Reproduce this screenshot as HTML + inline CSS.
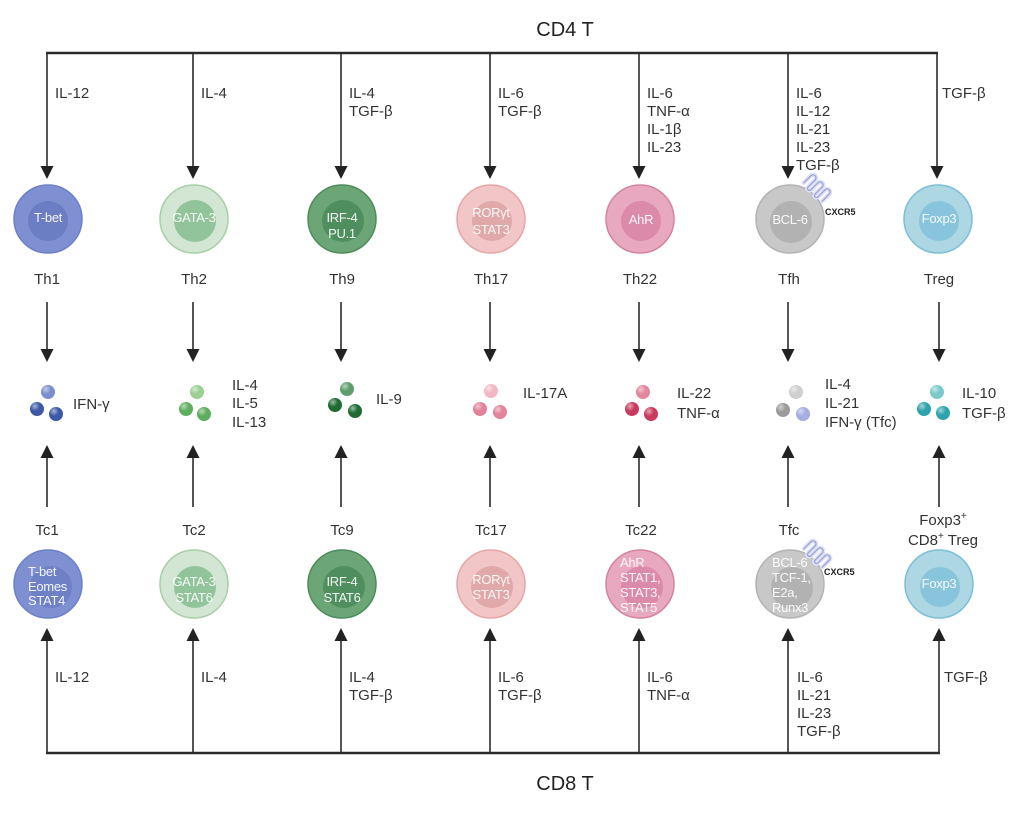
<!DOCTYPE html>
<html><head><meta charset="utf-8"><style>
html,body{margin:0;padding:0;background:#fff;}
svg{display:block;}
.lb{font-family:"Liberation Sans",sans-serif;font-size:15px;fill:#333;}
.tt{font-family:"Liberation Sans",sans-serif;font-size:20px;fill:#222;}
.ct{font-family:"Liberation Sans",sans-serif;font-size:13px;fill:#fff;fill-opacity:0.92;letter-spacing:-0.3px;}
.cx{font-family:"Liberation Sans",sans-serif;font-size:9px;font-weight:bold;fill:#222;}
</style></head><body>
<svg width="1024" height="815" viewBox="0 0 1024 815" xmlns="http://www.w3.org/2000/svg">
<defs>
<radialGradient id="hl" cx="0.35" cy="0.3" r="0.7">
<stop offset="0" stop-color="#fff" stop-opacity="0.55"/>
<stop offset="0.5" stop-color="#fff" stop-opacity="0"/>
</radialGradient>
<g id="rec">
<path d="M-13,0 v-10 a3,3 0 0 1 6,0 v10 a2,2 0 0 0 4,0 v-10 a3,3 0 0 1 6,0 v10 a2,2 0 0 0 4,0 v-10 a3,3 0 0 1 6,0 v10" fill="none" stroke="#dfe2f4" stroke-width="4.5" stroke-linecap="round"/>
<path d="M-13,0 v-10 a3,3 0 0 1 6,0 v10 a2,2 0 0 0 4,0 v-10 a3,3 0 0 1 6,0 v10 a2,2 0 0 0 4,0 v-10 a3,3 0 0 1 6,0 v10" fill="none" stroke="#9ba4d6" stroke-width="1.3" stroke-linecap="round"/>
</g>
</defs>

<!-- Titles -->
<text class="tt" x="565" y="36" text-anchor="middle">CD4 T</text>
<text class="tt" x="565" y="790" text-anchor="middle">CD8 T</text>

<!-- Top bus -->
<g stroke="#2b2b2b" fill="none">
<line x1="46" y1="53" x2="938" y2="53" stroke-width="2.4"/>
<line x1="47" y1="53" x2="47" y2="168" stroke-width="1.6"/>
<line x1="193" y1="53" x2="193" y2="168" stroke-width="1.6"/>
<line x1="341" y1="53" x2="341" y2="168" stroke-width="1.6"/>
<line x1="490" y1="53" x2="490" y2="168" stroke-width="1.6"/>
<line x1="639" y1="53" x2="639" y2="168" stroke-width="1.6"/>
<line x1="788" y1="53" x2="788" y2="168" stroke-width="1.6"/>
<line x1="937" y1="53" x2="937" y2="168" stroke-width="1.6"/>
</g>
<g fill="#222">
<polygon points="40.5,166 53.5,166 47,179"/>
<polygon points="186.5,166 199.5,166 193,179"/>
<polygon points="334.5,166 347.5,166 341,179"/>
<polygon points="483.5,166 496.5,166 490,179"/>
<polygon points="632.5,166 645.5,166 639,179"/>
<polygon points="781.5,166 794.5,166 788,179"/>
<polygon points="930.5,166 943.5,166 937,179"/>
</g>

<!-- Bottom bus -->
<g stroke="#2b2b2b" fill="none">
<line x1="46" y1="753" x2="940" y2="753" stroke-width="2.4"/>
<line x1="47" y1="640" x2="47" y2="753" stroke-width="1.6"/>
<line x1="193" y1="640" x2="193" y2="753" stroke-width="1.6"/>
<line x1="341" y1="640" x2="341" y2="753" stroke-width="1.6"/>
<line x1="490" y1="640" x2="490" y2="753" stroke-width="1.6"/>
<line x1="639" y1="640" x2="639" y2="753" stroke-width="1.6"/>
<line x1="788" y1="640" x2="788" y2="753" stroke-width="1.6"/>
<line x1="939" y1="640" x2="939" y2="753" stroke-width="1.6"/>
</g>
<g fill="#222">
<polygon points="40.5,641 53.5,641 47,628"/>
<polygon points="186.5,641 199.5,641 193,628"/>
<polygon points="334.5,641 347.5,641 341,628"/>
<polygon points="483.5,641 496.5,641 490,628"/>
<polygon points="632.5,641 645.5,641 639,628"/>
<polygon points="781.5,641 794.5,641 788,628"/>
<polygon points="932.5,641 945.5,641 939,628"/>
</g>

<!-- Middle arrows (down) -->
<g stroke="#2b2b2b" stroke-width="1.6">
<line x1="47" y1="302" x2="47" y2="350"/>
<line x1="193" y1="302" x2="193" y2="350"/>
<line x1="341" y1="302" x2="341" y2="350"/>
<line x1="490" y1="302" x2="490" y2="350"/>
<line x1="639" y1="302" x2="639" y2="350"/>
<line x1="788" y1="302" x2="788" y2="350"/>
<line x1="939" y1="302" x2="939" y2="350"/>
</g>
<g fill="#222">
<polygon points="40.5,349 53.5,349 47,362"/>
<polygon points="186.5,349 199.5,349 193,362"/>
<polygon points="334.5,349 347.5,349 341,362"/>
<polygon points="483.5,349 496.5,349 490,362"/>
<polygon points="632.5,349 645.5,349 639,362"/>
<polygon points="781.5,349 794.5,349 788,362"/>
<polygon points="932.5,349 945.5,349 939,362"/>
</g>
<!-- Middle arrows (up) -->
<g stroke="#2b2b2b" stroke-width="1.6">
<line x1="47" y1="457" x2="47" y2="507"/>
<line x1="193" y1="457" x2="193" y2="507"/>
<line x1="341" y1="457" x2="341" y2="507"/>
<line x1="490" y1="457" x2="490" y2="507"/>
<line x1="639" y1="457" x2="639" y2="507"/>
<line x1="788" y1="457" x2="788" y2="507"/>
<line x1="939" y1="457" x2="939" y2="507"/>
</g>
<g fill="#222">
<polygon points="40.5,458 53.5,458 47,445"/>
<polygon points="186.5,458 199.5,458 193,445"/>
<polygon points="334.5,458 347.5,458 341,445"/>
<polygon points="483.5,458 496.5,458 490,445"/>
<polygon points="632.5,458 645.5,458 639,445"/>
<polygon points="781.5,458 794.5,458 788,445"/>
<polygon points="932.5,458 945.5,458 939,445"/>
</g>

<!-- Top cytokine labels -->
<g class="lb">
<text x="55" y="98">IL-12</text>
<text x="201" y="98">IL-4</text>
<text x="349" y="98">IL-4</text><text x="349" y="116">TGF-β</text>
<text x="498" y="98">IL-6</text><text x="498" y="116">TGF-β</text>
<text x="647" y="98">IL-6</text><text x="647" y="116">TNF-α</text><text x="647" y="134">IL-1β</text><text x="647" y="152">IL-23</text>
<text x="796" y="98">IL-6</text><text x="796" y="116">IL-12</text><text x="796" y="134">IL-21</text><text x="796" y="152">IL-23</text><text x="796" y="170">TGF-β</text>
<text x="942" y="98">TGF-β</text>
</g>

<!-- Bottom cytokine labels -->
<g class="lb">
<text x="55" y="682">IL-12</text>
<text x="201" y="682">IL-4</text>
<text x="349" y="682">IL-4</text><text x="349" y="700">TGF-β</text>
<text x="498" y="682">IL-6</text><text x="498" y="700">TGF-β</text>
<text x="647" y="682">IL-6</text><text x="647" y="700">TNF-α</text>
<text x="797" y="682">IL-6</text><text x="797" y="700">IL-21</text><text x="797" y="718">IL-23</text><text x="797" y="736">TGF-β</text>
<text x="944" y="682">TGF-β</text>
</g>

<!-- Top cells -->
<g stroke-width="1.5">
<circle cx="48" cy="219" r="34" fill="#7e90d1" stroke="#6d80c8"/>
<circle cx="48" cy="221" r="20" fill="#6b7dc3"/>
<circle cx="194" cy="219" r="34" fill="#d3e6d3" stroke="#a8cfa8"/>
<circle cx="195" cy="221" r="21" fill="#92c49b"/>
<circle cx="342" cy="219" r="34" fill="#6ca677" stroke="#4e8d5b"/>
<circle cx="343" cy="221" r="21" fill="#4f8f5f"/>
<circle cx="491" cy="219" r="34" fill="#f2c6c6" stroke="#e6a6a6"/>
<circle cx="492" cy="221" r="20" fill="#e0a8a8"/>
<circle cx="640" cy="219" r="34" fill="#e8a9c0" stroke="#d3849f"/>
<circle cx="641" cy="221" r="20" fill="#dc8aaa"/>
<circle cx="790" cy="219" r="34" fill="#c8c8c8" stroke="#b3b3b3"/>
<circle cx="791" cy="222" r="21" fill="#b2b2b2"/>
<circle cx="938" cy="219" r="34" fill="#acd7e3" stroke="#7bbfd8"/>
<circle cx="939" cy="221" r="20" fill="#88c5dc"/>
</g>
<use href="#rec" transform="translate(813,192) rotate(45)"/>
<text class="cx" x="825" y="215">CXCR5</text>
<g class="ct" text-anchor="middle">
<text x="48" y="222">T-bet</text>
<text x="194" y="222">GATA-3</text>
<text x="342" y="222">IRF-4</text><text x="342" y="238">PU.1</text>
<text x="491" y="217">RORγt</text><text x="491" y="234">STAT3</text>
<text x="641" y="224">AhR</text>
<text x="790" y="224">BCL-6</text>
<text x="939" y="223">Foxp3</text>
</g>

<!-- Th labels -->
<g class="lb" text-anchor="middle">
<text x="47" y="284">Th1</text>
<text x="194" y="284">Th2</text>
<text x="342" y="284">Th9</text>
<text x="491" y="284">Th17</text>
<text x="640" y="284">Th22</text>
<text x="789" y="284">Tfh</text>
<text x="939" y="284">Treg</text>
</g>

<!-- Cytokine clusters -->
<g>
<circle cx="48" cy="392" r="7" fill="#7a8fcc"/><circle cx="37" cy="409" r="7" fill="#3c58a6"/><circle cx="56" cy="414" r="7" fill="#3c58a6"/>
<circle cx="197" cy="392" r="7" fill="#9ccf93"/><circle cx="186" cy="409" r="7" fill="#5fae5f"/><circle cx="204" cy="414" r="7" fill="#5fae5f"/>
<circle cx="347" cy="389" r="7" fill="#5f9e6c"/><circle cx="335" cy="405" r="7" fill="#1f6b33"/><circle cx="355" cy="411" r="7" fill="#1f6b33"/>
<circle cx="491" cy="391" r="7" fill="#f1b8c2"/><circle cx="480" cy="409" r="7" fill="#e2839a"/><circle cx="500" cy="412" r="7" fill="#e2839a"/>
<circle cx="643" cy="392" r="7" fill="#e1869b"/><circle cx="632" cy="409" r="7" fill="#c93b5e"/><circle cx="651" cy="414" r="7" fill="#c93b5e"/>
<circle cx="796" cy="392" r="7" fill="#cfcfcf"/><circle cx="783" cy="410" r="7" fill="#9a9a9a"/><circle cx="803" cy="414" r="7" fill="#a5ade2"/>
<circle cx="937" cy="392" r="7" fill="#7cc9cc"/><circle cx="924" cy="409" r="7" fill="#2fa3ad"/><circle cx="943" cy="413" r="7" fill="#2fa3ad"/>
</g>
<g fill="url(#hl)">
<circle cx="48" cy="392" r="7"/><circle cx="37" cy="409" r="7"/><circle cx="56" cy="414" r="7"/>
<circle cx="197" cy="392" r="7"/><circle cx="186" cy="409" r="7"/><circle cx="204" cy="414" r="7"/>
<circle cx="347" cy="389" r="7"/><circle cx="335" cy="405" r="7"/><circle cx="355" cy="411" r="7"/>
<circle cx="491" cy="391" r="7"/><circle cx="480" cy="409" r="7"/><circle cx="500" cy="412" r="7"/>
<circle cx="643" cy="392" r="7"/><circle cx="632" cy="409" r="7"/><circle cx="651" cy="414" r="7"/>
<circle cx="796" cy="392" r="7"/><circle cx="783" cy="410" r="7"/><circle cx="803" cy="414" r="7"/>
<circle cx="937" cy="392" r="7"/><circle cx="924" cy="409" r="7"/><circle cx="943" cy="413" r="7"/>
</g>
<g class="lb">
<text x="73" y="409">IFN-γ</text>
<text x="232" y="390">IL-4</text><text x="232" y="408">IL-5</text><text x="232" y="427">IL-13</text>
<text x="376" y="404">IL-9</text>
<text x="523" y="398">IL-17A</text>
<text x="677" y="398">IL-22</text><text x="677" y="418">TNF-α</text>
<text x="825" y="389">IL-4</text><text x="825" y="408">IL-21</text><text x="825" y="427">IFN-γ (Tfc)</text>
<text x="962" y="398">IL-10</text><text x="962" y="418">TGF-β</text>
</g>

<!-- Tc labels -->
<g class="lb" text-anchor="middle">
<text x="47" y="535">Tc1</text>
<text x="194" y="535">Tc2</text>
<text x="342" y="535">Tc9</text>
<text x="491" y="535">Tc17</text>
<text x="641" y="535">Tc22</text>
<text x="789" y="535">Tfc</text>
<text x="943" y="525">Foxp3<tspan font-size="10" dy="-6">+</tspan></text>
<text x="943" y="545">CD8<tspan font-size="10" dy="-6">+</tspan><tspan dy="6"> Treg</tspan></text>
</g>

<!-- Bottom cells -->
<g stroke-width="1.5">
<circle cx="48" cy="584" r="34" fill="#7e90d1" stroke="#6d80c8"/>
<circle cx="51" cy="587" r="21" fill="#6e80c6"/>
<circle cx="194" cy="584" r="34" fill="#d3e6d3" stroke="#a8cfa8"/>
<circle cx="195" cy="587" r="21" fill="#92c49b"/>
<circle cx="342" cy="584" r="34" fill="#6ca677" stroke="#4e8d5b"/>
<circle cx="344" cy="587" r="21" fill="#4f8f5f"/>
<circle cx="491" cy="584" r="34" fill="#f2c6c6" stroke="#e6a6a6"/>
<circle cx="492" cy="587" r="21" fill="#e0a8a8"/>
<circle cx="640" cy="584" r="34" fill="#e8a9c0" stroke="#d3849f"/>
<circle cx="642" cy="587" r="21" fill="#dc8aaa"/>
<circle cx="790" cy="584" r="34" fill="#c8c8c8" stroke="#b3b3b3"/>
<circle cx="792" cy="588" r="21" fill="#b2b2b2"/>
<circle cx="939" cy="584" r="34" fill="#acd7e3" stroke="#7bbfd8"/>
<circle cx="940" cy="587" r="20" fill="#88c5dc"/>
</g>
<use href="#rec" transform="translate(813,558) rotate(45)"/>
<text class="cx" x="824" y="575">CXCR5</text>
<g class="ct">
<text x="28" y="576">T-bet</text><text x="28" y="591">Eomes</text><text x="28" y="605">STAT4</text>
<text x="194" y="586" text-anchor="middle">GATA-3</text><text x="194" y="602" text-anchor="middle">STAT6</text>
<text x="342" y="586" text-anchor="middle">IRF-4</text><text x="342" y="602" text-anchor="middle">STAT6</text>
<text x="491" y="584" text-anchor="middle">RORγt</text><text x="491" y="599" text-anchor="middle">STAT3</text>
<text x="620" y="567">AhR</text><text x="620" y="582">STAT1,</text><text x="620" y="597">STAT3,</text><text x="620" y="612">STAT5</text>
<text x="772" y="567">BCL-6</text><text x="772" y="582">TCF-1,</text><text x="772" y="597">E2a,</text><text x="772" y="612">Runx3</text>
<text x="939" y="588" text-anchor="middle">Foxp3</text>
</g>
</svg>
</body></html>
